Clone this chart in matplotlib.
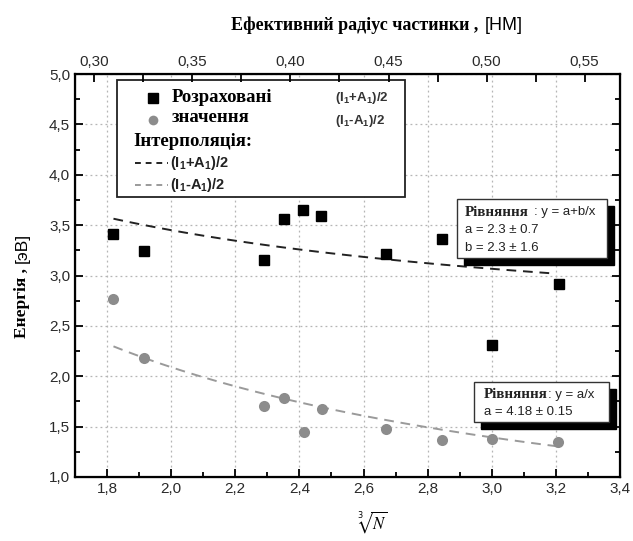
import numpy as np
import matplotlib.pyplot as plt
from matplotlib.patches import Rectangle
from matplotlib.lines import Line2D
from matplotlib.ticker import MultipleLocator, FuncFormatter

# computed values (I1+A1)/2
x_plus = [1.817, 1.915, 2.290, 2.351, 2.412, 2.468, 2.669, 2.846, 3.002, 3.210]
y_plus = [3.41, 3.24, 3.15, 3.56, 3.65, 3.59, 3.21, 3.36, 2.31, 2.92]
# computed values (I1-A1)/2
x_minus = [1.818, 1.915, 2.290, 2.352, 2.414, 2.469, 2.671, 2.846, 3.002, 3.208]
y_minus = [2.77, 2.18, 1.70, 1.78, 1.45, 1.67, 1.48, 1.37, 1.38, 1.35]

# fit parameters shown in the boxes
a_plus, b_plus = 2.3, 2.3
a_minus = 4.18
fit_range = (1.82, 3.2)

plt.rcParams['mathtext.fontset'] = 'custom'
plt.rcParams['mathtext.rm'] = 'Liberation Sans'
plt.rcParams['mathtext.default'] = 'regular'

serif = ['Liberation Serif']
sans = ['Liberation Sans', 'DejaVu Sans']
tickcol = '#2a2a2a'

fig = plt.figure(figsize=(6.33, 5.41), dpi=100)
ax = fig.add_axes([75 / 633, 1 - 477 / 541, 545 / 633, 403 / 541])

xf = np.linspace(*fit_range, 100)
ax.plot(xf, a_plus + b_plus / xf, color='#222222', lw=1.4, ls=(0, (5, 3.5)), zorder=2)
ax.plot(xf, a_minus / xf, color='#9a9a9a', lw=1.4, ls=(0, (5, 3.5)), zorder=2)
ax.plot(x_plus, y_plus, 's', color='black', ms=7.5, zorder=3)
ax.plot(x_minus, y_minus, 'o', color='#8c8c8c', ms=8, mec='none', zorder=3)

ax.set_xlim(1.7, 3.4)
ax.set_ylim(1.0, 5.0)
ax.xaxis.set_major_locator(MultipleLocator(0.2))
ax.xaxis.set_minor_locator(MultipleLocator(0.1))
ax.yaxis.set_major_locator(MultipleLocator(0.5))
ax.yaxis.set_minor_locator(MultipleLocator(0.25))
comma = FuncFormatter(lambda v, p: f'{v:.1f}'.replace('.', ','))
ax.xaxis.set_major_formatter(comma)
ax.yaxis.set_major_formatter(comma)
ax.grid(True, which='major', ls=(0, (1.5, 2.5)), color='#b5b5b5', lw=0.9)
ax.tick_params(which='both', direction='in', right=True, top=False, colors='black',
               labelcolor=tickcol, labelsize=11, width=1.3)
ax.tick_params(which='major', length=6)
ax.tick_params(which='minor', length=3.5)
for lab in ax.get_xticklabels() + ax.get_yticklabels():
    lab.set_family(sans)
for sp in ax.spines.values():
    sp.set_linewidth(1.6)

top = ax.twiny()
top.set_xlim(0.2902, 0.568)
top.xaxis.set_major_locator(MultipleLocator(0.05))
top.xaxis.set_minor_locator(MultipleLocator(0.025))
top.xaxis.set_major_formatter(FuncFormatter(lambda v, p: f'{v:.2f}'.replace('.', ',')))
top.tick_params(which='both', direction='in', labelcolor=tickcol, labelsize=11, width=1.3)
top.tick_params(which='major', length=6)
top.tick_params(which='minor', length=6)
for lab in top.get_xticklabels():
    lab.set_family(sans)

# axis titles
fig.text(478 / 633, 1 - 25 / 541, 'Ефективний радіус частинки ,', family=serif,
         weight='bold', fontsize=13, ha='right', va='center')
fig.text(485 / 633, 1 - 25 / 541, '[НМ]', family=sans, fontsize=13, ha='left', va='center')
fig.text(22 / 633, 1 - 268 / 541, 'Енергія ,', family=serif, weight='bold', fontsize=12.5,
         rotation=90, ha='center', va='top')
fig.text(22 / 633, 1 - 263 / 541, '[эВ]', family=sans, fontsize=12.5,
         rotation=90, ha='center', va='bottom')
fig.text(372 / 633, 1 - 522 / 541, r'$\sqrt[3]{\mathit{N}}$', fontsize=12, ha='center',
         va='center', math_fontfamily='stix')


def px(x, y):
    return (x - 75) / 545, (477 - y) / 403


# legend box
T = ax.transAxes
x0, y0 = px(117, 197)
x1, y1 = px(405, 80)
ax.add_patch(Rectangle((x0, y0), x1 - x0, y1 - y0, transform=T, fc='white',
                       ec='#222222', lw=1.3, zorder=5))
ax.add_line(Line2D([px(153, 0)[0]], [px(0, 98)[1]], marker='s', color='black',
                   ms=6.5, transform=T, zorder=6))
ax.add_line(Line2D([px(153, 0)[0]], [px(0, 120)[1]], marker='o', color='#8c8c8c',
                   mec='none', ms=7, transform=T, zorder=6))
ax.add_line(Line2D([px(135, 0)[0], px(168, 0)[0]], [px(0, 163)[1]] * 2, color='#222222',
                   lw=1.4, ls=(0, (3, 2.5)), transform=T, zorder=6))
ax.add_line(Line2D([px(135, 0)[0], px(168, 0)[0]], [px(0, 185)[1]] * 2, color='#9a9a9a',
                   lw=1.4, ls=(0, (3, 2.5)), transform=T, zorder=6))
ax.text(*px(172, 97), 'Розраховані', family=serif, weight='bold', fontsize=13.5,
        transform=T, va='center', zorder=6)
ax.text(*px(172, 118), 'значення', family=serif, weight='bold', fontsize=13.5,
        transform=T, va='center', zorder=6)
ax.text(*px(133, 141), 'Інтерполяція:', family=serif, weight='bold', fontsize=13.5,
        transform=T, va='center', zorder=6)
ax.text(*px(170, 163), '(I$_1$+A$_1$)/2', family=sans, weight='bold', fontsize=10.5,
        transform=T, va='center', zorder=6, color='#222222')
ax.text(*px(170, 185), '(I$_1$-A$_1$)/2', family=sans, weight='bold', fontsize=10.5,
        transform=T, va='center', zorder=6, color='#222222')
ax.text(*px(335, 98), '(I$_1$+A$_1$)/2', family=sans, weight='bold', fontsize=9.5,
        transform=T, va='center', color='#333333', zorder=6)
ax.text(*px(335, 121), '(I$_1$-A$_1$)/2', family=sans, weight='bold', fontsize=9.5,
        transform=T, va='center', color='#333333', zorder=6)


def eq_box(l, t, r, b, sh, lines):
    bx0, by0 = px(l, b)
    bx1, by1 = px(r, t)
    sx, sy = sh / 545, sh / 403
    ax.add_patch(Rectangle((bx0 + sx, by0 - sy), bx1 - bx0, by1 - by0, transform=T,
                           fc='black', ec='black', zorder=5))
    ax.add_patch(Rectangle((bx0, by0), bx1 - bx0, by1 - by0, transform=T, fc='white',
                           ec='#333333', lw=1.0, zorder=6))
    for (tx, ty, s, fam, w, fs) in lines:
        ax.text(*px(tx, ty), s, family=fam, weight=w, fontsize=fs, transform=T,
                va='center', zorder=7, color='#222222')


eq_box(457, 199, 607, 258, 7, [
    (465, 212, 'Рівняння', serif, 'bold', 10.8),
    (534, 212, ': y = a+b/x', sans, 'normal', 9.5),
    (465, 230, 'a = 2.3 ± 0.7', sans, 'normal', 9.5),
    (465, 248, 'b = 2.3 ± 1.6', sans, 'normal', 9.5),
])
eq_box(474, 382, 609, 422, 7, [
    (484, 395, 'Рівняння', serif, 'bold', 10.8),
    (548, 395, ': y = a/x', sans, 'normal', 9.5),
    (484, 412, 'a = 4.18 ± 0.15', sans, 'normal', 9.5),
])

fig.savefig('out.png', dpi=100)
